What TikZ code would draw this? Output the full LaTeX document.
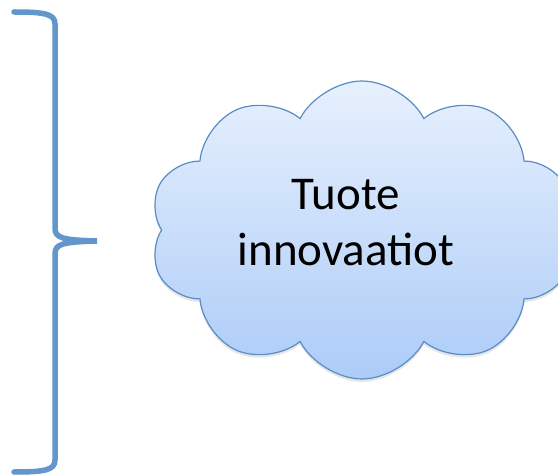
\documentclass[tikz,border=0pt]{standalone}
\usepackage{fontspec}
\setmainfont{Carlito}
\usepackage{tikz}
\usetikzlibrary{shapes.symbols,shadows}
\definecolor{bracecol}{RGB}{98,150,205}
\definecolor{cloudline}{RGB}{90,140,196}
\definecolor{cloudtop}{RGB}{231,240,253}
\definecolor{cloudbot}{RGB}{172,204,248}
\tikzstyle{idea}=[cloud,cloud puffs=10,cloud puff arc=125,aspect=1.45,
minimum width=425pt,minimum height=298pt,draw=cloudline,line width=1.2pt,
top color=cloudtop,bottom color=cloudbot,
drop shadow={opacity=0.2,shadow xshift=0pt,shadow yshift=-3pt}]
\tikzstyle{ideatext}=[align=center,font=\fontsize{47}{56}\selectfont]
\tikzstyle{brace}=[draw=bracecol,line width=5.5pt,line cap=round]

\begin{document}
\begin{tikzpicture}[x=1pt,y=-1pt]
    \useasboundingbox (0,0) rectangle (558,476);
    \clip (0,0) rectangle (558,476);
        \node (tuote) [idea] at (362,230) {};
        \node (tuotetxt) [ideatext] at (346,223) {Tuote\\innovaatiot};

        \coordinate (tip) at (97,241);
        \draw [brace] (14,12) .. controls (45,12) and (55,14) .. (55,24) -- (55,228)
            .. controls (55,238) and (62,240) .. (tip)
            .. controls (62,242) and (55,244) .. (55,254) -- (55,460)
            .. controls (55,470) and (45,472) .. (14,472);
    \end{tikzpicture}
\end{document}
